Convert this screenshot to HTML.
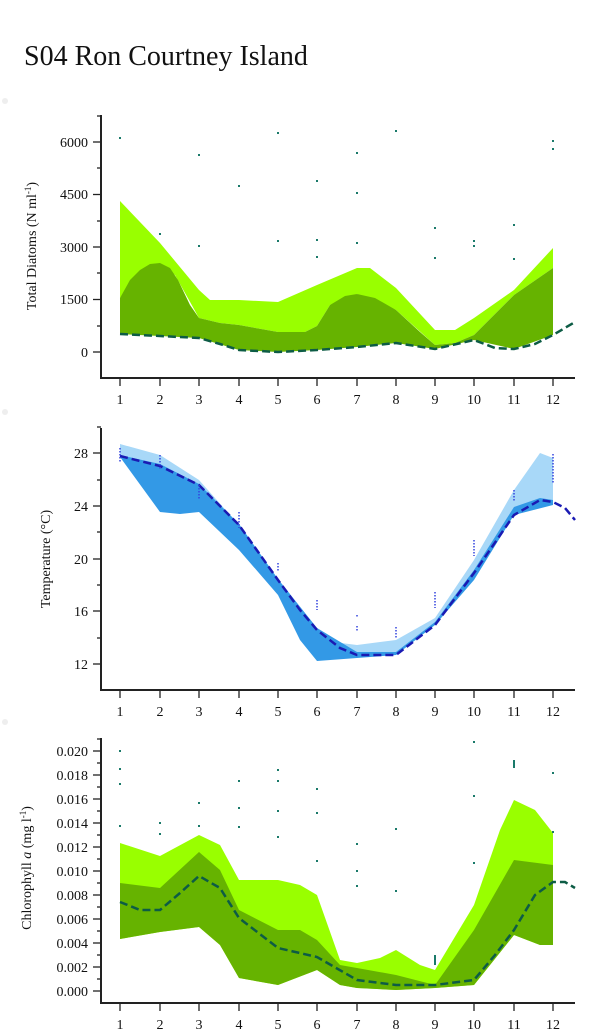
<!DOCTYPE html>
<html><head><meta charset="utf-8"><style>
body{margin:0;background:#fff;}
svg{display:block;font-family:"Liberation Serif",serif;}
</style></head><body>
<svg width="600" height="1036" viewBox="0 0 600 1036">
<text x="24" y="65" font-size="28" fill="#111">S04 Ron Courtney Island</text>
<circle cx="5" cy="101" r="3" fill="#eee"/><circle cx="5" cy="412" r="3" fill="#eee"/><circle cx="5" cy="722" r="3" fill="#eee"/>

<!-- TOP -->
<polygon fill="#99ff00" points="120,201 160,243 199,290 210,300 239,300 278,302 317,285 357,268 370,268 396,288 435,330 455,330 474,318 514,290 553,248 553,268 514,295 474,335 455,343 435,345 396,310 357,294 330,305 317,326 305,332 278,332 239,325 220,323 199,318 175,275 160,266 140,272 120,298"/>
<polygon fill="#66b300" points="120,298 130,280 140,270 150,264 160,263 170,268 178,280 190,305 199,318 220,323 239,325 278,332 305,332 317,326 330,305 345,296 357,294 375,298 396,310 420,332 435,345 455,343 474,335 514,295 553,268 553,335 514,349 474,340 435,349 396,343 357,347 317,350 278,352 239,350 199,338 160,336 120,334"/>
<polyline fill="none" stroke="#0d5c45" stroke-width="2.5" stroke-dasharray="8,4" points="120,334 160,336 199,338 220,344 239,350 278,352 317,350 357,347 396,343 435,349 474,340 495,348 514,349 535,344 553,335 575,322"/>
<g fill="#1a7a6a">
<rect x="119" y="137" width="2" height="2"/><rect x="198" y="154" width="2" height="2"/><rect x="238" y="185" width="2" height="2"/><rect x="277" y="132" width="2" height="2"/><rect x="316" y="180" width="2" height="2"/><rect x="356" y="152" width="2" height="2"/><rect x="395" y="130" width="2" height="2"/><rect x="434" y="227" width="2" height="2"/><rect x="473" y="240" width="2" height="2"/><rect x="513" y="224" width="2" height="2"/><rect x="552" y="140" width="2" height="2"/><rect x="552" y="148" width="2" height="2"/><rect x="159" y="233" width="2" height="2"/><rect x="198" y="245" width="2" height="2"/><rect x="277" y="240" width="2" height="2"/><rect x="316" y="239" width="2" height="2"/><rect x="356" y="192" width="2" height="2"/><rect x="356" y="242" width="2" height="2"/><rect x="434" y="257" width="2" height="2"/><rect x="473" y="245" width="2" height="2"/><rect x="513" y="258" width="2" height="2"/><rect x="316" y="256" width="2" height="2"/>
</g>
<g stroke="#222" stroke-width="2" fill="none">
<line x1="101" y1="115" x2="101" y2="379"/><line x1="100" y1="378" x2="575" y2="378"/>
</g>
<g stroke="#222" stroke-width="1.3">
<line x1="93" y1="142" x2="101" y2="142"/><line x1="93" y1="194.5" x2="101" y2="194.5"/><line x1="93" y1="247" x2="101" y2="247"/><line x1="93" y1="299.5" x2="101" y2="299.5"/><line x1="93" y1="352" x2="101" y2="352"/>
<line x1="97" y1="168" x2="101" y2="168"/><line x1="97" y1="221" x2="101" y2="221"/><line x1="97" y1="273" x2="101" y2="273"/><line x1="97" y1="326" x2="101" y2="326"/><line x1="97" y1="116" x2="101" y2="116"/>
</g>
<g font-size="14" text-anchor="end" fill="#111">
<text x="88" y="147">6000</text><text x="88" y="199">4500</text><text x="88" y="252">3000</text><text x="88" y="304">1500</text><text x="88" y="357">0</text>
</g>
<text transform="translate(36,246) rotate(-90)" font-size="14" text-anchor="middle" fill="#111">Total Diatoms (N ml<tspan font-size="9" dy="-5">-1</tspan><tspan dy="5">)</tspan></text>

<!-- MIDDLE -->
<polygon fill="#a8d8f8" points="120,444 160,455 199,480 239,525 278,587 317,640 357,645 396,640 435,618 474,560 514,490 540,453 553,458 553,502 540,500 514,515 474,573 435,625 396,655 357,655 317,630 278,580 239,525 199,485 160,466 120,456"/>
<polygon fill="#3399e6" points="120,455 160,464 199,484 239,524 278,579 317,628 357,652 396,652 435,622 474,570 514,507 540,498 553,500 553,505 514,515 474,580 435,625 396,655 357,658 317,661 300,640 278,595 239,550 199,512 180,514 160,512 120,457"/>
<polyline fill="none" stroke="#1a1ab3" stroke-width="2.5" stroke-dasharray="8,4" points="120,456 160,466 199,485 239,525 278,580 300,610 317,630 340,648 357,655 396,655 435,625 474,573 514,515 540,500 553,502 565,508 575,520"/>
<g stroke="#3344dd" stroke-width="1.5" stroke-dasharray="1.5,1.5">
<line x1="120" y1="448" x2="120" y2="462"/><line x1="160" y1="455" x2="160" y2="469"/><line x1="199" y1="485" x2="199" y2="499"/><line x1="239" y1="512" x2="239" y2="528"/><line x1="278" y1="563" x2="278" y2="571"/><line x1="317" y1="600" x2="317" y2="610"/><line x1="357" y1="615" x2="357" y2="617"/><line x1="357" y1="626" x2="357" y2="632"/><line x1="396" y1="627" x2="396" y2="639"/><line x1="435" y1="592" x2="435" y2="608"/><line x1="474" y1="540" x2="474" y2="556"/><line x1="514" y1="490" x2="514" y2="502"/><line x1="553" y1="454" x2="553" y2="484"/>
</g>
<g stroke="#222" stroke-width="2" fill="none">
<line x1="101" y1="428" x2="101" y2="691"/><line x1="100" y1="690" x2="575" y2="690"/>
</g>
<g stroke="#222" stroke-width="1.3">
<line x1="93" y1="453" x2="101" y2="453"/><line x1="93" y1="506" x2="101" y2="506"/><line x1="93" y1="559" x2="101" y2="559"/><line x1="93" y1="611" x2="101" y2="611"/><line x1="93" y1="664" x2="101" y2="664"/>
<line x1="97" y1="480" x2="101" y2="480"/><line x1="97" y1="532" x2="101" y2="532"/><line x1="97" y1="585" x2="101" y2="585"/><line x1="97" y1="638" x2="101" y2="638"/><line x1="97" y1="427" x2="101" y2="427"/>
</g>
<g font-size="14" text-anchor="end" fill="#111">
<text x="88" y="458">28</text><text x="88" y="511">24</text><text x="88" y="564">20</text><text x="88" y="616">16</text><text x="88" y="669">12</text>
</g>
<text transform="translate(50,559) rotate(-90)" font-size="14" text-anchor="middle" fill="#111">Temperature (°C)</text>

<!-- BOTTOM -->
<polygon fill="#99ff00" points="120,843 160,856 199,835 220,845 239,880 278,880 300,885 317,895 340,960 357,963 380,958 396,950 420,965 435,970 474,905 500,830 514,800 535,810 553,833 553,945 540,945 514,935 474,985 435,988 396,990 357,988 340,985 317,970 278,985 239,978 220,945 199,927 160,932 120,939"/>
<polygon fill="#66b300" points="120,883 160,888 199,852 220,870 239,910 278,930 300,930 317,940 340,965 357,968 396,975 435,985 474,930 514,860 553,865 553,945 540,945 514,935 474,985 435,988 396,990 357,988 340,985 317,970 278,985 239,978 220,945 199,927 160,932 120,939"/>
<polyline fill="none" stroke="#0d5c45" stroke-width="2.5" stroke-dasharray="8,4" points="120,902 140,910 160,910 180,893 199,876 220,888 239,918 278,948 317,957 357,980 396,985 435,985 474,980 495,955 514,930 535,895 553,882 565,882 575,888"/>
<g fill="#1a7a6a">
<rect x="119" y="750" width="2" height="2"/><rect x="119" y="768" width="2" height="2"/><rect x="119" y="783" width="2" height="2"/><rect x="119" y="825" width="2" height="2"/><rect x="159" y="822" width="2" height="2"/><rect x="159" y="833" width="2" height="2"/><rect x="198" y="802" width="2" height="2"/><rect x="198" y="825" width="2" height="2"/><rect x="238" y="780" width="2" height="2"/><rect x="238" y="807" width="2" height="2"/><rect x="238" y="826" width="2" height="2"/><rect x="277" y="769" width="2" height="2"/><rect x="277" y="780" width="2" height="2"/><rect x="277" y="810" width="2" height="2"/><rect x="277" y="836" width="2" height="2"/><rect x="316" y="788" width="2" height="2"/><rect x="316" y="812" width="2" height="2"/><rect x="316" y="860" width="2" height="2"/><rect x="356" y="843" width="2" height="2"/><rect x="356" y="870" width="2" height="2"/><rect x="356" y="885" width="2" height="2"/><rect x="395" y="828" width="2" height="2"/><rect x="395" y="890" width="2" height="2"/><rect x="434" y="955" width="2" height="10"/><rect x="473" y="741" width="2" height="2"/><rect x="473" y="795" width="2" height="2"/><rect x="473" y="862" width="2" height="2"/><rect x="513" y="760" width="2" height="8"/><rect x="552" y="772" width="2" height="2"/><rect x="552" y="831" width="2" height="2"/>
</g>
<g stroke="#222" stroke-width="2" fill="none">
<line x1="101" y1="738" x2="101" y2="1004"/><line x1="100" y1="1003" x2="575" y2="1003"/>
</g>
<g stroke="#222" stroke-width="1.3">
<line x1="93" y1="751" x2="101" y2="751"/><line x1="93" y1="775" x2="101" y2="775"/><line x1="93" y1="799" x2="101" y2="799"/><line x1="93" y1="823" x2="101" y2="823"/><line x1="93" y1="847" x2="101" y2="847"/><line x1="93" y1="871" x2="101" y2="871"/><line x1="93" y1="895" x2="101" y2="895"/><line x1="93" y1="919" x2="101" y2="919"/><line x1="93" y1="943" x2="101" y2="943"/><line x1="93" y1="967" x2="101" y2="967"/><line x1="93" y1="991" x2="101" y2="991"/>
<line x1="97" y1="739" x2="101" y2="739"/><line x1="97" y1="763" x2="101" y2="763"/><line x1="97" y1="787" x2="101" y2="787"/><line x1="97" y1="811" x2="101" y2="811"/><line x1="97" y1="835" x2="101" y2="835"/><line x1="97" y1="859" x2="101" y2="859"/><line x1="97" y1="883" x2="101" y2="883"/><line x1="97" y1="907" x2="101" y2="907"/><line x1="97" y1="931" x2="101" y2="931"/><line x1="97" y1="955" x2="101" y2="955"/><line x1="97" y1="979" x2="101" y2="979"/>
</g>
<g font-size="14" text-anchor="end" fill="#111">
<text x="88" y="756">0.020</text><text x="88" y="780">0.018</text><text x="88" y="804">0.016</text><text x="88" y="828">0.014</text><text x="88" y="852">0.012</text><text x="88" y="876">0.010</text><text x="88" y="900">0.008</text><text x="88" y="924">0.006</text><text x="88" y="948">0.004</text><text x="88" y="972">0.002</text><text x="88" y="996">0.000</text>
</g>
<text transform="translate(31,868) rotate(-90)" font-size="14" text-anchor="middle" fill="#111">Chlorophyll <tspan font-style="italic">a</tspan> (mg l<tspan font-size="9" dy="-5">-1</tspan><tspan dy="5">)</tspan></text>

<!-- x ticks & labels -->
<g stroke="#222" stroke-width="1.3">
<line x1="120" y1="378" x2="120" y2="386"/><line x1="160" y1="378" x2="160" y2="386"/><line x1="199" y1="378" x2="199" y2="386"/><line x1="239" y1="378" x2="239" y2="386"/><line x1="278" y1="378" x2="278" y2="386"/><line x1="317" y1="378" x2="317" y2="386"/><line x1="357" y1="378" x2="357" y2="386"/><line x1="396" y1="378" x2="396" y2="386"/><line x1="435" y1="378" x2="435" y2="386"/><line x1="474" y1="378" x2="474" y2="386"/><line x1="514" y1="378" x2="514" y2="386"/><line x1="553" y1="378" x2="553" y2="386"/>
<line x1="120" y1="690" x2="120" y2="698"/><line x1="160" y1="690" x2="160" y2="698"/><line x1="199" y1="690" x2="199" y2="698"/><line x1="239" y1="690" x2="239" y2="698"/><line x1="278" y1="690" x2="278" y2="698"/><line x1="317" y1="690" x2="317" y2="698"/><line x1="357" y1="690" x2="357" y2="698"/><line x1="396" y1="690" x2="396" y2="698"/><line x1="435" y1="690" x2="435" y2="698"/><line x1="474" y1="690" x2="474" y2="698"/><line x1="514" y1="690" x2="514" y2="698"/><line x1="553" y1="690" x2="553" y2="698"/>
<line x1="120" y1="1003" x2="120" y2="1011"/><line x1="160" y1="1003" x2="160" y2="1011"/><line x1="199" y1="1003" x2="199" y2="1011"/><line x1="239" y1="1003" x2="239" y2="1011"/><line x1="278" y1="1003" x2="278" y2="1011"/><line x1="317" y1="1003" x2="317" y2="1011"/><line x1="357" y1="1003" x2="357" y2="1011"/><line x1="396" y1="1003" x2="396" y2="1011"/><line x1="435" y1="1003" x2="435" y2="1011"/><line x1="474" y1="1003" x2="474" y2="1011"/><line x1="514" y1="1003" x2="514" y2="1011"/><line x1="553" y1="1003" x2="553" y2="1011"/>
</g>
<g font-size="14" text-anchor="middle" fill="#111">
<text x="120" y="404">1</text><text x="160" y="404">2</text><text x="199" y="404">3</text><text x="239" y="404">4</text><text x="278" y="404">5</text><text x="317" y="404">6</text><text x="357" y="404">7</text><text x="396" y="404">8</text><text x="435" y="404">9</text><text x="474" y="404">10</text><text x="514" y="404">11</text><text x="553" y="404">12</text>
<text x="120" y="716">1</text><text x="160" y="716">2</text><text x="199" y="716">3</text><text x="239" y="716">4</text><text x="278" y="716">5</text><text x="317" y="716">6</text><text x="357" y="716">7</text><text x="396" y="716">8</text><text x="435" y="716">9</text><text x="474" y="716">10</text><text x="514" y="716">11</text><text x="553" y="716">12</text>
<text x="120" y="1029">1</text><text x="160" y="1029">2</text><text x="199" y="1029">3</text><text x="239" y="1029">4</text><text x="278" y="1029">5</text><text x="317" y="1029">6</text><text x="357" y="1029">7</text><text x="396" y="1029">8</text><text x="435" y="1029">9</text><text x="474" y="1029">10</text><text x="514" y="1029">11</text><text x="553" y="1029">12</text>
</g>
</svg>
</body></html>
